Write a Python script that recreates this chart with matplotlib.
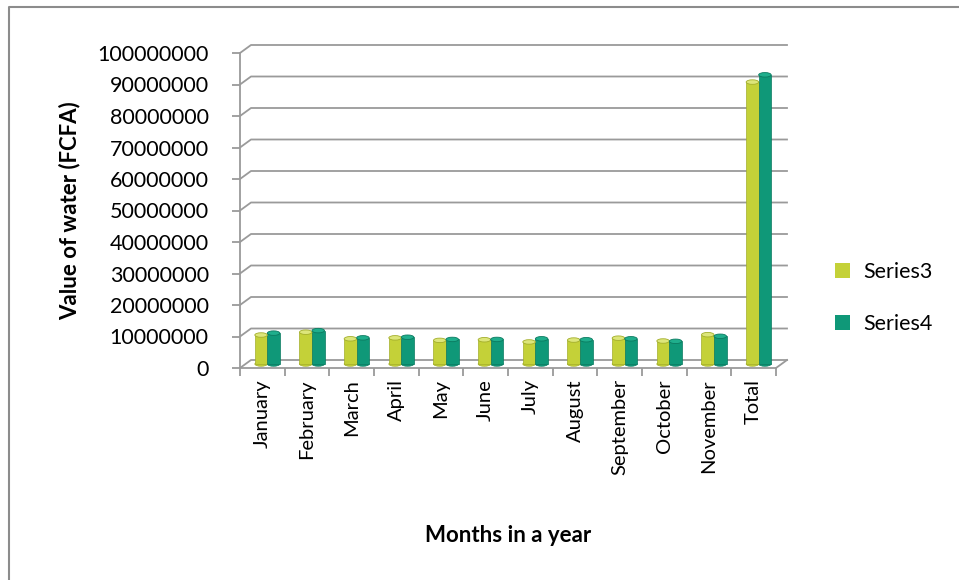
import numpy as np
import matplotlib
matplotlib.use("Agg")
import matplotlib.pyplot as plt
from matplotlib.patches import Ellipse, Patch
from matplotlib.lines import Line2D

# data
months = ["January", "February", "March", "April", "May", "June", "July",
          "August", "September", "October", "November", "Total"]
series3 = [9.2e6, 10.1e6, 8.0e6, 8.3e6, 7.5e6, 7.7e6, 7.0e6, 7.6e6, 8.2e6, 7.3e6, 9.3e6, 89.5e6]
series4 = [9.8e6, 10.6e6, 8.3e6, 8.5e6, 7.8e6, 7.8e6, 8.0e6, 7.7e6, 8.0e6, 7.2e6, 8.8e6, 91.8e6]
yticks = np.arange(0, 100000001, 10000000)

yellow = "#C4D138"
green = "#0F9878"
grey = "#9A9A9A"

plt.rcParams["font.family"] = ["Lato", "DejaVu Sans"]

W, H = 959, 580
fig = plt.figure(figsize=(W / 100, H / 100), dpi=100)

# front of the plot box in pixels (left, top, right, bottom)
L, T, R, B = 240, 53, 776, 368
ax = fig.add_axes([L / W, 1 - B / H, (R - L) / W, (B - T) / H])
n = len(months)
ax.set_xlim(0, n)
ax.set_ylim(0, 100e6)

px_x = (R - L) / n          # pixels per category
px_y = (B - T) / 100e6      # pixels per value unit

# depth offset of the back wall
dx, dy = 11 / px_x, 8 / px_y
for y in yticks:
    ax.plot([0, dx, n + dx], [y, y + dy, y + dy], color=grey, lw=1.3,
            clip_on=False, zorder=1)
ax.plot([n, n + dx], [0, dy], color=grey, lw=1.3, clip_on=False, zorder=1)

# bars (shifted to half depth)
bw = 0.28
sx, sy = 5 / px_x, 4 / px_y
x = np.arange(n) + 0.5 + sx
eh = 4.5 / px_y
tops = {yellow: "#DDE67A", green: "#1FAE8C"}
edges = {yellow: "#A3AE2A", green: "#0B7A60"}
for xs, vals, col in [(x - bw / 2, series3, yellow), (x + bw / 2, series4, green)]:
    ax.bar(xs, vals, width=bw, bottom=sy, color=col, edgecolor=edges[col],
           lw=0.5, zorder=3, clip_on=False)
    for xi, v in zip(xs, vals):
        ax.add_patch(Ellipse((xi, v + sy), bw, eh, facecolor=tops[col],
                             edgecolor=edges[col], lw=0.6, zorder=4, clip_on=False))
        ax.add_patch(Ellipse((xi, sy), bw, eh, facecolor=col, edgecolor=edges[col],
                             lw=0.5, zorder=2, clip_on=False))

for s in ["top", "right"]:
    ax.spines[s].set_visible(False)
for s in ["left", "bottom"]:
    ax.spines[s].set_color(grey)
    ax.spines[s].set_linewidth(1.3)

ax.set_yticks(yticks)
ax.set_yticklabels([str(int(v)) for v in yticks])
ax.tick_params(axis="y", direction="out", length=5.5, width=1.3, color=grey,
               labelsize=15.5, pad=17)
ax.set_xticks(np.arange(n + 1))
ax.set_xticklabels([])
ax.tick_params(axis="x", which="major", direction="out", length=6, width=1.3, color=grey)
ax.set_xticks(np.arange(n) + 0.5, minor=True)
ax.set_xticklabels(months, minor=True, rotation=90, fontsize=14.5)
ax.tick_params(axis="x", which="minor", length=0, pad=8)

ax.set_ylabel("Value of water (FCFA)", fontsize=16, fontweight="bold", labelpad=12)
ax.set_xlabel("Months in a year", fontsize=16, fontweight="bold", labelpad=36)

handles = [Patch(facecolor=yellow, label="Series3"), Patch(facecolor=green, label="Series4")]
fig.legend(handles=handles, loc="center", bbox_to_anchor=(884 / W, 1 - 298 / H),
           frameon=False, fontsize=15.5, handlelength=0.7, handleheight=0.7,
           handletextpad=0.6, labelspacing=1.5)

# outer frame (only top and left edges visible)
fig.add_artist(Line2D([9 / W, 9 / W, 1], [0, 1 - 7 / H, 1 - 7 / H],
                      transform=fig.transFigure, color="#8C8C8C", lw=1.5))

fig.savefig("out.png", dpi=100)
